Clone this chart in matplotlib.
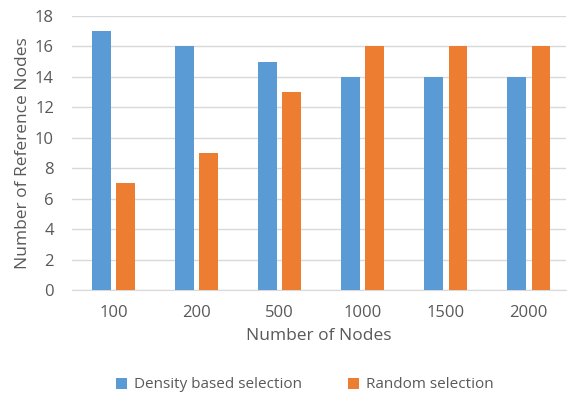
import numpy as np
import matplotlib
matplotlib.use('Agg')
import matplotlib.pyplot as plt

categories = ['100', '200', '500', '1000', '1500', '2000']
density = [17, 16, 15, 14, 14, 14]
random_sel = [7, 9, 13, 16, 16, 16]

plt.rcParams['font.family'] = ['Open Sans', 'DejaVu Sans']
grey = '#595959'

fig = plt.figure(figsize=(5.68, 3.98), dpi=100)
ax = fig.add_axes([72/568, 1-290/398, 494/568, 274/398])

x = np.arange(len(categories))
w = 0.22
ax.bar(x - 0.145, density, w, color='#5B9BD5', label='Density based selection', zorder=3)
ax.bar(x + 0.145, random_sel, w, color='#ED7D31', label='Random selection', zorder=3)

ax.set_xlim(-0.5, 5.45)
ax.set_ylim(0, 18)
ax.set_yticks(range(0, 19, 2))
ax.set_xticks(x)
ax.set_xticklabels(categories)
ax.grid(axis='y', color='#D9D9D9', linewidth=1, zorder=0)
for s in ['top', 'right', 'left']:
    ax.spines[s].set_visible(False)
ax.spines['bottom'].set_color('#D9D9D9')
ax.tick_params(length=0, labelsize=12, colors=grey)
ax.tick_params(axis='x', pad=11)
ax.tick_params(axis='y', pad=13)

ax.set_xlabel('Number of Nodes', fontsize=12.5, color=grey, labelpad=5)
ax.set_ylabel('Number of Reference Nodes', fontsize=12.5, color=grey, labelpad=3)

leg = fig.legend(loc='center', bbox_to_anchor=(305/568, 1-385/398), ncol=2, frameon=False,
                 fontsize=11, handlelength=0.7, handleheight=0.7, columnspacing=3, handletextpad=0.5)
for t in leg.get_texts():
    t.set_color(grey)

fig.savefig('out.png', dpi=100)
